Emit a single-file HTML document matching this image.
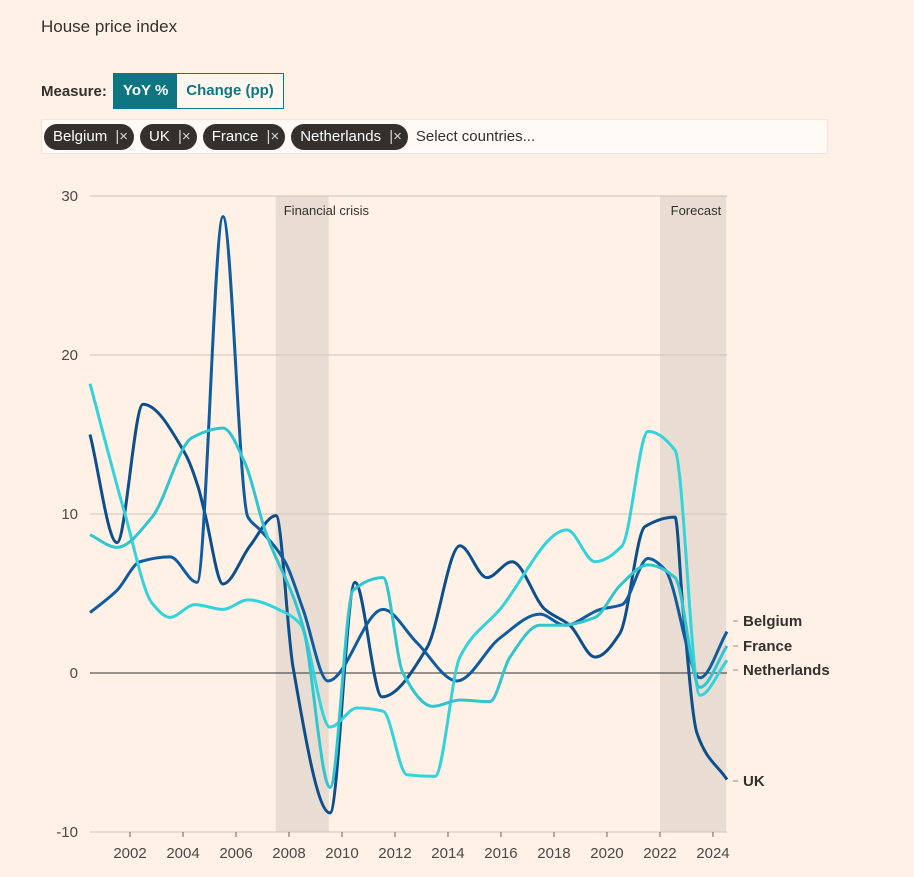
<!DOCTYPE html>
<html><head><meta charset="utf-8">
<style>
body{margin:0;background:#fff1e5;font-family:"Liberation Sans",sans-serif;color:#33302e;}
#wrap{position:relative;width:914px;height:877px;overflow:hidden;}
.title{position:absolute;left:41px;top:17px;font-size:17px;}
.measure{position:absolute;left:41px;top:83px;font-size:15px;font-weight:bold;}
.btns{position:absolute;left:113px;top:73px;height:34px;border:1px solid #0d7680;display:flex;font-size:15px;font-weight:bold;}
.btns div{padding:0 9px;line-height:34px;}
.on{background:#0d7680;color:#fff;}
.off{color:#0d7680;background:#fff7ef;}
.filter{position:absolute;left:41px;top:119px;width:787px;height:35px;background:#fffaf5;border:1px solid #f0e4d8;box-sizing:border-box;display:flex;align-items:center;padding-left:2px;font-size:15px;}
.chip{background:#33302e;color:#fff;border-radius:13px;height:26px;line-height:26px;padding:0 6px 0 9px;margin-right:6px;font-size:15px;}
.chip span{opacity:.8;margin-left:4px;}
.ph{color:#33302e;margin-left:2px;}
svg{position:absolute;left:0;top:0;}
</style></head><body>
<div id="wrap">
<div class="title">House price index</div>
<div class="measure">Measure:</div>
<div class="btns">
<div class="on">YoY %</div>
<div class="off">Change (pp)</div>
</div>
<div class="filter">
<div class="chip">Belgium <span>|×</span></div>
<div class="chip">UK <span>|×</span></div>
<div class="chip">France <span>|×</span></div>
<div class="chip">Netherlands <span>|×</span></div>
<div class="ph">Select countries...</div>
</div>
<svg id="chart" width="914" height="877"></svg>
</div>
<script>
const yTicks=[30,20,10,0,-10];
const xTicks=[2002,2004,2006,2008,2010,2012,2014,2016,2018,2020,2022,2024];
const shades=[["Financial crisis",2007.5,2009.5],["Forecast",2022,2024.5]];
const seriesNames=["UK","Belgium","Netherlands","France"];
const ukYears=[2000.49,2001.51,2002.49,2004.08,2004.57,2004.83,2005.51,2006.53,2007.51,2008.15,2009.55,2010.49,2011.51,2013.21,2014.45,2015.47,2016.42,2017.66,2018.6,2019.55,2020.49,2021.43,2022.57,2022.87,2023.4,2024.53];
const ukValues=[15,8.2,16.9,13.8,11.7,10,5.6,8,9.9,0.4,-8.8,5.7,-1.5,1.6,8,6,7,4,3,1,2.5,9.2,9.8,4,-3.8,-6.7];
const beYears=[2000.49,2001.51,2002.38,2003.51,2004.53,2005.51,2006.45,2006.91,2007.85,2008.53,2009.47,2011.55,2012.83,2014.34,2015.96,2017.47,2018.42,2019.74,2020.57,2021.55,2022.19,2023.51,2024.53];
const beValues=[3.8,5.2,7,7.3,5.7,28.7,9.8,9,7,4,-0.5,4,1.9,-0.5,2.2,3.7,3,4,4.3,7.2,6.5,-0.3,2.6];
const nlYears=[2000.49,2001.81,2002.83,2003.51,2004.45,2005.51,2006.45,2007.85,2008.42,2009.55,2010.57,2011.55,2012.45,2013.51,2014.45,2015.96,2018.49,2019.55,2020.57,2021.55,2022.57,2023.51,2024.53];
const nlValues=[18.2,10,4.4,3.5,4.3,4,4.6,3.8,3.1,-3.4,-2.2,-2.4,-6.4,-6.5,1,4,9,7,8,15.2,14,-1.4,0.8];
const frYears=[2000.49,2001.51,2002.83,2004.34,2005.51,2006.34,2007.09,2008.53,2009.55,2010.42,2011.55,2012.3,2013.43,2014.45,2015.58,2016.34,2017.47,2018.23,2019.55,2020.49,2021.55,2022.57,2023.51,2024.53];
const frValues=[8.7,7.9,9.8,14.8,15.4,13.2,9,2.9,-7.2,5.2,6,0,-2.1,-1.7,-1.8,1,3,3,3.5,5.5,6.8,6,-0.9,1.7];
const labelValues=[["Belgium",621],["France",646],["Netherlands",670],["UK",781]];

const NS="http://www.w3.org/2000/svg";
const svg=document.getElementById('chart');
const X0=90,X1=727,Y0=196,Y1=832;
const xs=y=>X0+(y-2000.49)/(2024.53-2000.49)*(X1-X0);
const ys=v=>Y0+(30-v)/40*(Y1-Y0);
function el(t,a,p){const e=document.createElementNS(NS,t);for(const k in a)e.setAttribute(k,a[k]);(p||svg).appendChild(e);return e;}
shades.forEach(s=>{
 const r=el('rect',{x:xs(s[1]),y:Y0,width:xs(s[2])-xs(s[1]),height:Y1-Y0,fill:'#e9ddd3'});
 
 
 const t=el('text',{x:s[0]==='Forecast'?xs(s[2])-5:xs(s[1])+8,y:Y0+19,'font-size':13,fill:'#33302e','text-anchor':s[0]==='Forecast'?'end':'start'});
 t.textContent=s[0];
 
 
});
yTicks.forEach(v=>{
 const l=el('line',{x1:X0,x2:X1,y1:ys(v),y2:ys(v),stroke:v===0?'#33302e':'#cfc3b6','stroke-width':1});
 
 
 const t=el('text',{x:78,y:ys(v)+5,'font-size':15,fill:'#4d4845','text-anchor':'end'});
 t.textContent=v;
 
 
});
xTicks.forEach(y=>{
 const l=el('line',{x1:xs(y),x2:xs(y),y1:Y1,y2:Y1+5,stroke:'#66605c'});
 
 
 const t=el('text',{x:xs(y),y:Y1+26,'font-size':15,fill:'#4d4845','text-anchor':'middle'});
 t.textContent=y;
 
 
});
function path(xa,ya){
 const P=xa.map((x,i)=>[xs(x),ys(ya[i])]);const n=P.length;
 const d=[],h=[],m=[];
 for(let i=0;i<n-1;i++){h.push(P[i+1][0]-P[i][0]);d.push((P[i+1][1]-P[i][1])/h[i]);}
 m[0]=d[0];m[n-1]=d[n-2];
 for(let i=1;i<n-1;i++){
  if(d[i-1]*d[i]<=0){m[i]=0;continue;}
  const w1=2*h[i]+h[i-1],w2=h[i]+2*h[i-1];
  m[i]=(w1+w2)/(w1/d[i-1]+w2/d[i]);
 }
 let s='M'+P[0][0]+','+P[0][1];
 for(let i=0;i<n-1;i++){const k=h[i]/3;
  s+=' C'+(P[i][0]+k)+','+(P[i][1]+m[i]*k)+' '+(P[i+1][0]-k)+','+(P[i+1][1]-m[i+1]*k)+' '+P[i+1][0]+','+P[i+1][1];}
 return s;
}
const defs=[[ukYears,ukValues,'#0d4f8b','uk'],[beYears,beValues,'#0f5ca0','belgium'],[nlYears,nlValues,'#33d3dc','netherlands'],[frYears,frValues,'#2fc6cf','france']];
defs.forEach(s=>{
 const p=el('path',{d:path(s[0],s[1]),fill:'none',stroke:s[2],'stroke-width':3,'stroke-linejoin':'round'});
 
 
});
labelValues.forEach(l=>{
 const t=el('text',{x:743,y:l[1]+5,'font-size':15,'font-weight':'bold',fill:'#33302e'});
 t.textContent=l[0];
 
 
 const m=el('line',{x1:733,x2:738,y1:l[1],y2:l[1],stroke:'#b8aea5','stroke-width':1.5});
 
 
});
</script>
</body></html>
